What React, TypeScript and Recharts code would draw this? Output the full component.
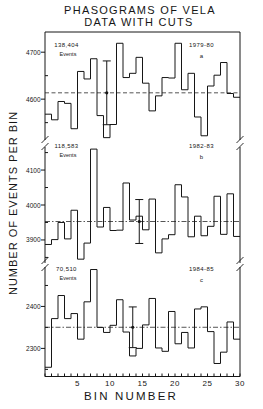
import React from "react"
import { ComposedChart, Line, XAxis, YAxis, ReferenceLine, Scatter, ErrorBar } from "recharts"

const binEdges = [0, 1, 2, 3, 4, 5, 6, 7, 8, 9, 10, 11, 12, 13, 14, 15, 16, 17, 18, 19, 20, 21, 22, 23, 24, 25, 26, 27, 28, 29, 30]
const binLabels = [5, 10, 15, 20, 25, 30]

const counts7980 = [4568, 4556, 4595, 4591, 4537, 4659, 4643, 4686, 4565, 4518, 4546, 4719, 4646, 4655, 4689, 4634, 4575, 4607, 4646, 4645, 4719, 4620, 4655, 4562, 4522, 4628, 4651, 4678, 4612, 4604]
const counts8283 = [3887, 3901, 3950, 3903, 3985, 3845, 3891, 4160, 3937, 3993, 3927, 3928, 4063, 3957, 3968, 3929, 4017, 3863, 3903, 3915, 4058, 4023, 3909, 3968, 3912, 3939, 4025, 3916, 4032, 3910]
const counts8485 = [2255, 2371, 2426, 2371, 2383, 2322, 2411, 2488, 2350, 2338, 2355, 2416, 2339, 2282, 2300, 2356, 2419, 2301, 2293, 2388, 2311, 2338, 2301, 2394, 2399, 2340, 2264, 2291, 2363, 2322]

const totalEvents = [138404, 118583, 70510]
const totalLabels = ["138,404", "118,583", "70,510"]
const seasons = ["1979-80", "1982-83", "1984-85"]
const panelTags = ["a", "b", "c"]
const errorBarBins = [10, 15, 14]

const labelTicks7980 = [4600, 4700]
const halfTicks7980 = [4550, 4650]
const labelTicks8283 = [3900, 4000, 4100]
const halfTicks8283 = [3850, 3950, 4050, 4150]
const labelTicks8485 = [2300, 2400]
const halfTicks8485 = [2250, 2350, 2450]

const FONT = "'Liberation Sans', Arial, sans-serif"
const INK = "#161616"

function stepData(counts: number[]) {
  const pts = counts.map((v, i) => ({ bin: i, v }))
  pts.push({ bin: counts.length, v: counts[counts.length - 1] })
  return pts
}

function LeftTick(props: any) {
  const { x, y, payload } = props
  const v = payload.value
  if (v % 100 === 0) {
    return (
      <g>
        <line x1={x - 4} x2={x} y1={y} y2={y} stroke={INK} />
        <text x={x - 4.5} y={y} textAnchor="end" dominantBaseline="central" fontSize={6.5} fontFamily={FONT} fill={INK}>
          {v}
        </text>
      </g>
    )
  }
  return <line x1={x} x2={x + 3} y1={y} y2={y} stroke={INK} />
}

function BottomTick(props: any) {
  const { x, y, payload } = props
  const v = payload.value
  return (
    <g>
      <line x1={x} x2={x} y1={y} y2={y - 3} stroke={INK} />
      {binLabels.includes(v) && (
        <text x={x} y={y + 7} textAnchor="middle" dominantBaseline="central" fontSize={8} fontFamily={FONT} fill={INK} letterSpacing={0.6}>
          {v}
        </text>
      )}
    </g>
  )
}

interface PanelProps {
  counts: number[]
  total: number
  errBin: number
  domain: [number, number]
  labelTicks: number[]
  halfTicks: number[]
  top: number
  height: number
  margin: { top: number; right: number; bottom: number; left: number }
  xMode: "top" | "none" | "bottom"
  dash: string
}

function Panel({ counts, total, errBin, domain, labelTicks, halfTicks, top, height, margin, xMode, dash }: PanelProps) {
  const data = stepData(counts)
  const mean = total / counts.length
  const err = [{ bin: errBin - 0.5, v: mean, e: Math.sqrt(mean) }]
  const allTicks = [...labelTicks, ...halfTicks].sort((a, b) => a - b)

  return (
    <div style={{ position: "absolute", left: 0, top }}>
      <ComposedChart width={263} height={height} data={data} margin={margin}>
        {xMode === "bottom" ? (
          <XAxis
            type="number"
            dataKey="bin"
            domain={[0, 30]}
            ticks={binEdges}
            interval={0}
            height={20}
            tickLine={false}
            tickSize={0}
            tickMargin={0}
            axisLine={{ stroke: INK }}
            tick={(p: any) => <BottomTick {...p} />}
          />
        ) : (
          <XAxis
            type="number"
            dataKey="bin"
            domain={[0, 30]}
            ticks={binEdges}
            interval={0}
            orientation="top"
            mirror
            hide={xMode === "none"}
            height={1}
            tick={false}
            tickSize={2.5}
            tickLine={{ stroke: INK }}
            axisLine={{ stroke: INK }}
          />
        )}
        <YAxis
          type="number"
          domain={domain}
          allowDataOverflow
          ticks={allTicks}
          interval={0}
          width={40}
          tickLine={false}
          tickSize={0}
          tickMargin={0}
          axisLine={{ stroke: INK }}
          tick={(p: any) => <LeftTick {...p} />}
        />
        <YAxis
          yAxisId="r"
          orientation="right"
          mirror
          type="number"
          domain={domain}
          allowDataOverflow
          ticks={allTicks}
          interval={0}
          tick={false}
          tickSize={3}
          tickLine={{ stroke: INK }}
          axisLine={{ stroke: INK }}
        />
        <ReferenceLine y={mean} stroke="#2a2a2a" strokeWidth={0.8} strokeDasharray={dash} />
        <Line type="stepAfter" dataKey="v" stroke={INK} strokeWidth={1} dot={false} isAnimationActive={false} />
        <Scatter
          data={err}
          dataKey="v"
          isAnimationActive={false}
          shape={(p: any) => <circle cx={p.cx} cy={p.cy} r={1.6} fill={INK} />}
        >
          <ErrorBar dataKey="e" direction="y" width={4} stroke={INK} strokeWidth={1} isAnimationActive={false} />
        </Scatter>
      </ComposedChart>
    </div>
  )
}

function BreakMarks({ x, y }: { x: number; y: number }) {
  return (
    <g stroke={INK} strokeWidth={0.9}>
      <line x1={x - 3.5} y1={y - 1} x2={x + 3.5} y2={y - 8} />
      <line x1={x - 3.5} y1={y + 6} x2={x + 3.5} y2={y - 1} />
    </g>
  )
}

function PanelNotes({ i, yTop }: { i: number; yTop: number }) {
  const t = { fontFamily: FONT, fill: INK, fontSize: 6, dominantBaseline: "central" as const, textAnchor: "middle" as const }
  return (
    <g>
      <text {...t} x={66.5} y={yTop} letterSpacing={0.4}>{totalLabels[i]}</text>
      <text {...t} x={68} y={yTop + 9} fontSize={5.5}>Events</text>
      <text {...t} x={201.5} y={yTop} letterSpacing={0.4}>{seasons[i]}</text>
      <text {...t} x={201.5} y={yTop + 10.5}>{panelTags[i]}</text>
    </g>
  )
}

export default function App() {
  return (
    <div style={{ position: "absolute", left: 0, top: 0, width: 263, height: 409, background: "#fff" }}>
      <Panel
        counts={counts7980}
        total={totalEvents[0]}
        errBin={errorBarBins[0]}
        domain={[4513, 4743]}
        labelTicks={labelTicks7980}
        halfTicks={halfTicks7980}
        top={0}
        height={150}
        margin={{ top: 32, right: 23, bottom: 10, left: 5 }}
        xMode="top"
        dash="4 2.5"
      />
      <Panel
        counts={counts8283}
        total={totalEvents[1]}
        errBin={errorBarBins[1]}
        domain={[3834, 4166]}
        labelTicks={labelTicks8283}
        halfTicks={halfTicks8283}
        top={140}
        height={130}
        margin={{ top: 7, right: 23, bottom: 7, left: 5 }}
        xMode="none"
        dash="5 2 1.5 2"
      />
      <Panel
        counts={counts8485}
        total={totalEvents[2]}
        errBin={errorBarBins[2]}
        domain={[2233, 2494]}
        labelTicks={labelTicks8485}
        halfTicks={halfTicks8485}
        top={262}
        height={147}
        margin={{ top: 5, right: 23, bottom: 12.5, left: 5 }}
        xMode="bottom"
        dash="5 2 1.5 2"
      />
      <svg width={263} height={409} style={{ position: "absolute", left: 0, top: 0, pointerEvents: "none" }}>
        <g fontFamily={FONT} fill={INK} textAnchor="middle">
          <text x={140} y={10} fontSize={11} letterSpacing={1.3} dominantBaseline="central">PHASOGRAMS OF VELA</text>
          <text x={139} y={22} fontSize={11} letterSpacing={1.3} dominantBaseline="central">DATA WITH CUTS</text>
          <text x={13} y={203} fontSize={11} letterSpacing={1} dominantBaseline="central" transform="rotate(-90 13 203)">
            NUMBER OF EVENTS PER BIN
          </text>
          <text x={131} y={396} fontSize={11.5} letterSpacing={2.2} dominantBaseline="central">BIN NUMBER</text>
        </g>
        <PanelNotes i={0} yTop={45} />
        <PanelNotes i={1} yTop={146} />
        <PanelNotes i={2} yTop={269} />
        <BreakMarks x={45} y={144} />
        <BreakMarks x={240} y={144} />
        <BreakMarks x={45} y={265} />
        <BreakMarks x={240} y={265} />
      </svg>
    </div>
  )
}
